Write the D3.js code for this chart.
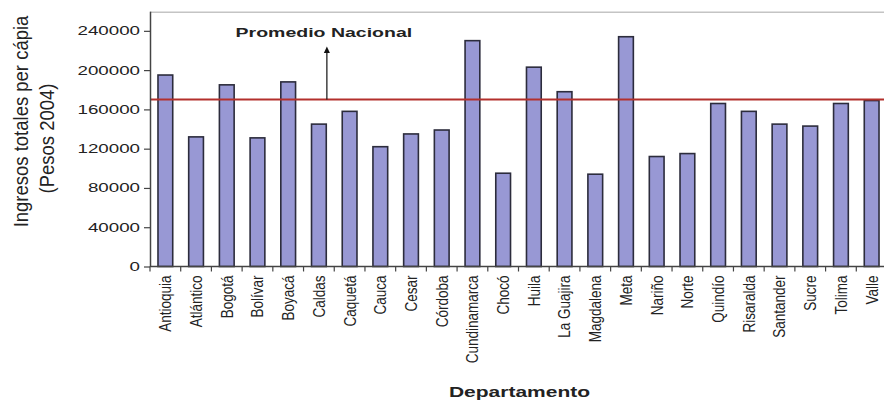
<!DOCTYPE html>
<html><head><meta charset="utf-8">
<script src="https://cdn.jsdelivr.net/npm/d3@7"></script>
<style>
body{margin:0;background:#fff;}
svg{display:block;}
text{font-family:Arial,"Liberation Sans",sans-serif;fill:#222;}
</style>
</head><body>
<svg id="chart" width="884" height="401"></svg>
<script>
const categories = ["Antioquia","Atlántico","Bogotá","Bolívar","Boyacá","Caldas","Caquetá","Cauca","Cesar","Córdoba","Cundinamarca","Chocó","Huila","La Guajira","Magdalena","Meta","Nariño","Norte","Quindío","Risaralda","Santander","Sucre","Tolima","Valle"];
const values = [195000,132000,185000,131000,188000,145000,158000,122000,135000,139000,230000,95000,203000,178000,94000,234000,112000,115000,166000,158000,145000,143000,166000,169000];
const promedioNacional = 170000;
const yTickValues = [0,40000,80000,120000,160000,200000,240000];
const yTitleLines = ["Ingresos totales per cápia","(Pesos 2004)"];
const xTitle = "Departamento";
const annotationText = "Promedio Nacional";

const W = 884, H = 401;
const svg = d3.select("#chart");
const plot = {left:150, right:887, top:11.2, bottom:266.5};
const HS = 1.5; // horizontal text stretch

const x = d3.scaleBand().domain(categories).range([plot.left, plot.right]).paddingInner(0.52).paddingOuter(0.26);
const y = d3.scaleLinear().domain([0,260000]).range([plot.bottom, plot.top]);

// plot frame top
svg.append("line").attr("x1",plot.left).attr("x2",W).attr("y1",plot.top+1).attr("y2",plot.top+1)
  .attr("stroke","#c4c4c4").attr("stroke-width",1.5);

// bars
svg.append("g").selectAll("rect").data(values).join("rect")
  .attr("x",(d,i)=>x(categories[i]))
  .attr("y",d=>y(d))
  .attr("width",x.bandwidth())
  .attr("height",d=>y(0)-y(d))
  .attr("fill","#9898d4")
  .attr("stroke","#2c2c3c")
  .attr("stroke-width",1.6);

// average line
svg.append("line").attr("x1",plot.left).attr("x2",W)
  .attr("y1",y(promedioNacional)).attr("y2",y(promedioNacional))
  .attr("stroke","#b3302c").attr("stroke-width",2);

// y axis
const yAxis = svg.append("g").attr("transform",`translate(${plot.left},0)`)
  .call(d3.axisLeft(y).tickValues(yTickValues).tickFormat(d3.format("d")).tickSize(6).tickSizeOuter(0).tickPadding(3));
yAxis.select(".domain").attr("stroke","#444").attr("stroke-width",1.5);
yAxis.selectAll(".tick line").attr("stroke","#444").attr("stroke-width",1.2);
yAxis.selectAll(".tick text").attr("font-size",12.5).attr("fill","#2a2a2a")
  .attr("font-family","Arial, 'Liberation Sans', sans-serif")
  .each(function(){
    const t = d3.select(this);
    const xx = +t.attr("x");
    t.attr("x",0).attr("transform",`translate(${xx-1},0) scale(${HS},1)`);
  });

// x axis baseline
svg.append("line").attr("x1",plot.left).attr("x2",W).attr("y1",y(0)).attr("y2",y(0))
  .attr("stroke","#444").attr("stroke-width",1.5);
// x ticks at band boundaries
const bounds = categories.map(c => x(c) + x.bandwidth()/2 - x.step()/2);
bounds.push(bounds[bounds.length-1] + x.step());
svg.append("g").selectAll("line").data(bounds).join("line")
  .attr("x1",d=>d).attr("x2",d=>d).attr("y1",y(0)).attr("y2",y(0)+5)
  .attr("stroke","#444").attr("stroke-width",1.2);

// x labels
svg.append("g").selectAll("text").data(categories).join("text")
  .attr("transform",c=>`translate(${x(c)+x.bandwidth()/2},${y(0)+9}) scale(1.25,1) rotate(-90)`)
  .attr("text-anchor","end").attr("dy","0.35em")
  .attr("font-size",13.5).attr("fill","#2a2a2a")
  .text(c=>c);

// y title
const yTitlePos = [[28,121.5],[54,138.5]];
svg.append("g").selectAll("text").data(yTitleLines).join("text")
  .attr("transform",(d,i)=>`translate(${yTitlePos[i][0]},${yTitlePos[i][1]}) scale(1.12,1) rotate(-90)`)
  .attr("text-anchor","middle").attr("font-size",18.5).attr("fill","#222")
  .text(d=>d);

// x title
svg.append("text")
  .attr("transform",`translate(${(plot.left+plot.right)/2+1},397) scale(${HS},1)`)
  .attr("text-anchor","middle").attr("font-size",14).attr("font-weight","bold").attr("fill","#1a1a1a")
  .text(xTitle);

// annotation
const arrowX = plot.left + 0.24*(plot.right-plot.left);
svg.append("text")
  .attr("transform",`translate(${arrowX-3},37.3) scale(${HS},1)`)
  .attr("text-anchor","middle").attr("font-size",13).attr("font-weight","bold").attr("fill","#1a1a1a")
  .text(annotationText);
svg.append("line").attr("x1",arrowX).attr("x2",arrowX)
  .attr("y1",y(promedioNacional)).attr("y2",52)
  .attr("stroke","#111").attr("stroke-width",1.2);
svg.append("path").attr("d",`M${arrowX},46.5 L${arrowX-3},53 L${arrowX+3},53 Z`).attr("fill","#111");
</script>
</body></html>
